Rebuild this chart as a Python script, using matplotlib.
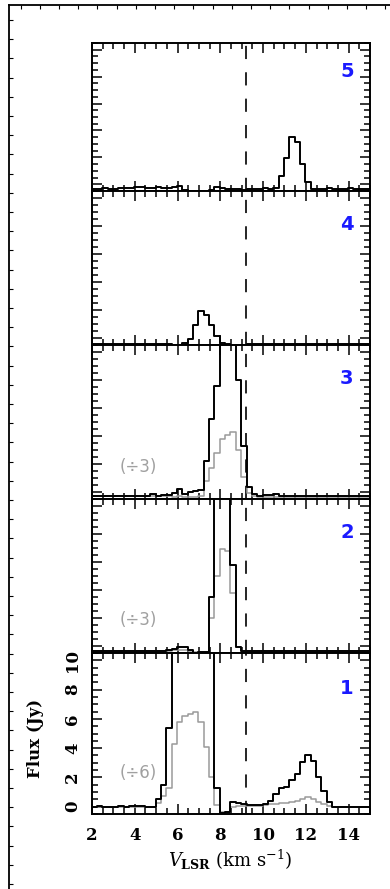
import numpy as np
import matplotlib
matplotlib.use("Agg")
import matplotlib.pyplot as plt
from matplotlib.ticker import MultipleLocator, FixedLocator

plt.rcParams["lines.scale_dashes"] = False
plt.rcParams["mathtext.fontset"] = "dejavuserif"

# ---------------- data ----------------
velocity = [1.85, 2.10, 2.35, 2.60, 2.85, 3.10, 3.35, 3.60, 3.85, 4.10, 4.35, 4.60,
            4.85, 5.10, 5.35, 5.60, 5.85, 6.10, 6.35, 6.60, 6.85, 7.10, 7.35, 7.60,
            7.85, 8.10, 8.35, 8.60, 8.85, 9.10, 9.35, 9.60, 9.85, 10.10, 10.35, 10.60,
            10.85, 11.10, 11.35, 11.60, 11.85, 12.10, 12.35, 12.60, 12.85, 13.10, 13.35,
            13.60, 13.85, 14.10, 14.35, 14.60, 14.85, 15.10]

flux_5 = [-0.32, -0.32, -0.32, -0.30, -0.32, -0.32, -0.30, -0.30,
          -0.28, -0.22, -0.22, -0.24, -0.24, -0.22, -0.24, -0.26,
          -0.22, -0.12, -0.40, -0.50, -0.52, -0.52, -0.48, -0.40,
          -0.22, -0.28, -0.36, -0.38, -0.38, -0.40, -0.33, -0.32,
          -0.32, -0.30, -0.32, -0.25, 0.60, 1.95, 3.50, 3.15,
          1.50, 0.15, -0.32, -0.33, -0.32, -0.30, -0.32, -0.33,
          -0.32, -0.30, -0.32, -0.32, -0.33, -0.32]

flux_4 = [-0.45, -0.45, -0.44, -0.45, -0.42, -0.42, -0.40, -0.40,
          -0.40, -0.42, -0.43, -0.44, -0.44, -0.45, -0.45, -0.44,
          -0.50, -0.58, -0.33, -0.05, 0.93, 1.95, 1.65, 0.93,
          0.17, -0.38, -0.45, -0.55, -0.55, -0.50, -0.43, -0.42,
          -0.44, -0.45, -0.45, -0.46, -0.46, -0.45, -0.44, -0.45,
          -0.45, -0.44, -0.44, -0.43, -0.43, -0.43, -0.44, -0.44,
          -0.44, -0.43, -0.43, -0.42, -0.42, -0.42]

flux_3 = [-0.30, -0.30, -0.29, -0.30, -0.28, -0.28, -0.26, -0.29,
          -0.27, -0.28, -0.28, -0.26, -0.12, -0.26, -0.24, -0.18,
          -0.05, 0.18, -0.12, -0.02, 0.05, 0.12, 2.20, 5.20,
          7.60, 11.4, 12.3, 12.9, 8.00, 3.30, 0.35, -0.12,
          -0.25, -0.20, -0.22, -0.15, -0.25, -0.28, -0.28, -0.30,
          -0.30, -0.30, -0.30, -0.30, -0.31, -0.31, -0.31, -0.30,
          -0.30, -0.30, -0.30, -0.30, -0.30, -0.30]

flux_3_div3 = [-0.32, -0.32, -0.32, -0.32, -0.32, -0.32, -0.32, -0.32,
               -0.32, -0.32, -0.32, -0.32, -0.30, -0.32, -0.32, -0.32,
               -0.35, -0.32, -0.38, -0.36, -0.36, -0.30, 0.80, 1.70,
               2.80, 3.80, 4.10, 4.30, 3.00, 1.10, -0.10, -0.32,
               -0.35, -0.34, -0.33, -0.33, -0.33, -0.33, -0.33, -0.33,
               -0.33, -0.33, -0.33, -0.33, -0.33, -0.33, -0.33, -0.33,
               -0.33, -0.33, -0.33, -0.33, -0.33, -0.33]

flux_2 = [-0.38, -0.38, -0.38, -0.37, -0.37, -0.38, -0.38, -0.38,
          -0.36, -0.34, -0.37, -0.38, -0.38, -0.39, -0.39, -0.28,
          -0.22, -0.10, -0.10, -0.30, -0.48, -0.46, -0.45, 3.50,
          12.0, 20.5, 20.5, 5.80, -0.05, -0.35, -0.37, -0.38,
          -0.38, -0.37, -0.38, -0.38, -0.38, -0.37, -0.37, -0.38,
          -0.38, -0.37, -0.37, -0.38, -0.38, -0.37, -0.38, -0.38,
          -0.38, -0.38, -0.38, -0.38, -0.38, -0.38]

flux_2_div3 = [-0.38, -0.38, -0.38, -0.38, -0.38, -0.38, -0.38, -0.38,
               -0.38, -0.38, -0.38, -0.38, -0.38, -0.38, -0.38, -0.34,
               -0.32, -0.30, -0.30, -0.38, -0.45, -0.45, -0.45, 2.00,
               5.00, 6.90, 6.80, 3.80, -0.10, -0.38, -0.38, -0.38,
               -0.38, -0.38, -0.38, -0.38, -0.38, -0.38, -0.38, -0.38,
               -0.38, -0.38, -0.38, -0.38, -0.38, -0.38, -0.38, -0.38,
               -0.38, -0.38, -0.38, -0.38, -0.38, -0.38]

flux_1 = [0.00, 0.00, 0.02, 0.00, -0.02, 0.00, 0.02, 0.00,
          0.02, 0.05, 0.02, 0.00, 0.00, 0.50, 1.50, 5.40,
          26.0, 35.0, 37.0, 38.0, 39.0, 35.0, 25.0, 12.0,
          1.25, -0.45, -0.35, 0.30, 0.25, 0.20, 0.12, 0.10,
          0.12, 0.15, 0.40, 0.85, 1.25, 1.35, 1.80, 2.25,
          3.05, 3.55, 3.10, 2.00, 1.10, 0.30, 0.00, 0.00,
          0.00, 0.00, 0.00, 0.00, 0.00, 0.00]

flux_1_div6 = [0.00, 0.00, 0.00, 0.00, 0.00, 0.00, 0.00, 0.00,
               0.00, 0.00, 0.00, 0.00, 0.00, 0.25, 0.70, 1.30,
               4.30, 5.80, 6.20, 6.30, 6.50, 5.80, 4.10, 2.00,
               0.10, -0.35, -0.35, 0.00, 0.02, 0.05, 0.05, 0.08,
               0.08, 0.10, 0.15, 0.20, 0.22, 0.28, 0.32, 0.42,
               0.55, 0.65, 0.50, 0.30, 0.15, 0.05, 0.00, 0.00,
               0.00, 0.00, 0.00, 0.00, 0.00, 0.00]

panel_numbers = ["5", "4", "3", "2", "1"]
black_series = [flux_5, flux_4, flux_3, flux_2, flux_1]
gray_series = [None, None, flux_3_div3, flux_2_div3, flux_1_div6]
scale_texts = [None, None, "(÷3)", "(÷3)", "(÷6)"]
scale_text_y = [None, None, 1.8, 1.85, 2.3]
x_ticks = [2, 4, 6, 8, 10, 12, 14]
y_ticks = [0, 2, 4, 6, 8, 10]
v_dashed = 9.2

# ---------------- layout ----------------
W, H = 390, 889
fig = plt.figure(figsize=(W / 100, H / 100), dpi=100)

# outer frame (cropped larger frame)
ow_px = 1.3 * W
oh_frac = (1 - 4.5 / H) + 0.2
oh_px = oh_frac * H
outer = fig.add_axes([8.5 / W, -0.2, 1.3, oh_frac])
outer.set_xlim(0, ow_px)
outer.set_ylim(oh_px, 0)
outer.xaxis.set_ticks_position("top")
outer.yaxis.set_ticks_position("left")
outer.xaxis.set_major_locator(FixedLocator(np.arange(12.0, ow_px, 19.2)))
outer.yaxis.set_major_locator(FixedLocator(np.arange(15.5, oh_px, 19.2)))
outer.tick_params(direction="in", length=3, width=0.8, labeltop=False,
                  labelleft=False, labelbottom=False)
for s in outer.spines.values():
    s.set_linewidth(1.3)

bounds = [43, 191, 345, 499, 653, 814]
left_px, right_px = 92, 370
serif = ["DejaVu Serif"]

axes = []
for k in range(5):
    top, bot = bounds[k], bounds[k + 1]
    ax = fig.add_axes([left_px / W, 1 - bot / H, (right_px - left_px) / W, (bot - top) / H])
    axes.append(ax)
    g = gray_series[k]
    if g is not None:
        ax.step(velocity, g, where="mid", color="#9a9a9a", lw=1.1, zorder=2)
    ax.step(velocity, black_series[k], where="mid", color="black", lw=1.4, zorder=3)
    ax.axvline(v_dashed, color="black", lw=1.2, dashes=(9.5, 9.5), zorder=1)
    ax.set_xlim(2, 15)
    ax.set_ylim(-0.5, 10.5)
    ax.set_xticks(x_ticks)
    ax.set_yticks(y_ticks)
    ax.xaxis.set_minor_locator(MultipleLocator(0.5))
    ax.yaxis.set_minor_locator(MultipleLocator(0.5))
    ax.tick_params(which="both", direction="in", top=True, right=True, width=1.1)
    ax.tick_params(which="major", length=7)
    ax.tick_params(which="minor", length=4)
    for s in ax.spines.values():
        s.set_linewidth(1.4)
    ax.text(0.917, 0.81 if k == 0 else 0.78, panel_numbers[k], transform=ax.transAxes,
            color="#1a1aff", fontsize=14, fontweight="bold", ha="center", va="center",
            family="DejaVu Sans")
    if scale_texts[k] is not None:
        ax.text(4.15, scale_text_y[k], scale_texts[k], color="#a0a0a0", fontsize=12,
                ha="center", va="center", family="DejaVu Sans")
    if k < 4:
        ax.tick_params(labelbottom=False, labelleft=False)
    else:
        ax.tick_params(axis="x", pad=9)
        ax.tick_params(axis="y", pad=8)
        for lab in ax.get_xticklabels():
            lab.set_family(serif)
            lab.set_fontweight("bold")
            lab.set_fontsize(12)
        for lab in ax.get_yticklabels():
            lab.set_family(serif)
            lab.set_fontweight("bold")
            lab.set_fontsize(12)
            lab.set_rotation(90)
            lab.set_va("center")

fig.text(35 / W, 1 - 738 / H, "Flux (Jy)", rotation=90, ha="center", va="center",
         family=serif, fontweight="bold", fontsize=12)
fig.text(230 / W, 1 - 860 / H, r"$\mathit{V}_{\mathbf{LSR}}$ (km s$^{-1}$)", ha="center",
         va="center", family=serif, fontsize=13)

fig.savefig("out.png", dpi=100)
